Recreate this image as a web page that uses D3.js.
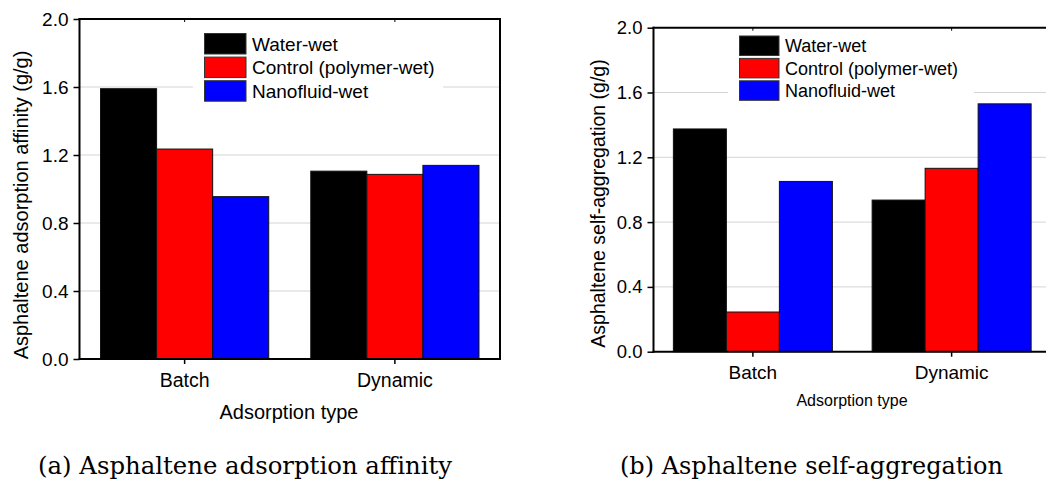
<!DOCTYPE html>
<html>
<head>
<meta charset="utf-8">
<script src="https://cdn.jsdelivr.net/npm/d3@7"></script>
<style>
  html, body { margin: 0; padding: 0; background: #fff; }
  svg { display: block; }
</style>
</head>
<body>
<svg id="chart" width="1046" height="481"></svg>
<script>
// ---------- data ----------
const categories = ["Batch", "Dynamic"];
const seriesNames = ["Water-wet", "Control (polymer-wet)", "Nanofluid-wet"];
const seriesColors = ["#000000", "#ff0000", "#0000ff"];
const yTicks = [0, 0.4, 0.8, 1.2, 1.6, 2.0];

// (a) adsorption affinity
const affinityWater = [1.59, 1.105];
const affinityControl = [1.235, 1.086];
const affinityNano = [0.955, 1.139];

// (b) self-aggregation
const aggregationWater = [1.375, 0.936];
const aggregationControl = [0.245, 1.132];
const aggregationNano = [1.051, 1.530];

const captionA = "(a) Asphaltene adsorption affinity";
const captionB = "(b) Asphaltene self-aggregation";

// ---------- drawing ----------
const svg = d3.select("#chart");
const SANS = "'Liberation Sans', Arial, sans-serif";

function drawPanel(o) {
  const g = svg.append("g");
  const x0 = d3.scaleBand().domain(categories).range([o.left, o.right])
    .paddingInner(0.2).paddingOuter(0.1);
  const x1 = d3.scaleBand().domain(seriesNames).range([0, x0.bandwidth()]);
  const y = d3.scaleLinear().domain([0, 2]).range([o.bottom, o.top]);
  const color = d3.scaleOrdinal().domain(seriesNames).range(seriesColors);

  // gridlines
  g.append("g").selectAll("line").data(yTicks.filter(t => t > 0 && t < 2)).join("line")
    .attr("x1", o.left).attr("x2", o.right)
    .attr("y1", d => y(d)).attr("y2", d => y(d))
    .attr("stroke", "#d4d4d4").attr("stroke-width", 1);

  // bars
  const rows = categories.map((c, i) => ({cat: c, vals: o.series.map((s, j) => ({name: seriesNames[j], v: s[i]}))}));
  g.append("g").selectAll("g").data(rows).join("g")
    .attr("transform", d => `translate(${x0(d.cat)},0)`)
    .selectAll("rect").data(d => d.vals).join("rect")
    .attr("x", d => x1(d.name)).attr("width", x1.bandwidth())
    .attr("y", d => y(d.v)).attr("height", d => y(0) - y(d.v))
    .attr("fill", d => color(d.name))
    .attr("stroke", "#111").attr("stroke-width", 1);

  // legend (white background hides gridline)
  const lg = g.append("g");
  lg.append("rect").attr("x", o.legBgX0).attr("y", o.legTop - 4)
    .attr("width", o.legBgX1 - o.legBgX0).attr("height", o.legStep * 3 + 6).attr("fill", "#fff");
  const li = lg.selectAll("g").data(seriesNames).join("g")
    .attr("transform", (d, i) => `translate(${o.legX},${o.legTop + i * o.legStep})`);
  li.append("rect").attr("width", o.swW).attr("height", o.swH)
    .attr("fill", d => color(d)).attr("stroke", "#333").attr("stroke-width", 1);
  li.append("text").attr("x", o.swW + 6).attr("y", o.swH / 2).attr("dy", "0.36em")
    .attr("font-family", SANS).attr("font-size", o.legFont).attr("fill", "#000").text(d => d);

  // y axis
  const ya = g.append("g").attr("transform", `translate(${o.left},0)`)
    .call(d3.axisLeft(y).tickValues(yTicks).tickFormat(d3.format(".1f")).tickSize(6).tickPadding(5));
  ya.select(".domain").remove();
  ya.selectAll(".tick line").attr("stroke", "#000").attr("stroke-width", 1.5);
  ya.selectAll(".tick text").attr("font-family", SANS).attr("font-size", o.tickFont).attr("fill", "#000");

  // x axis
  const xa = g.append("g").attr("transform", `translate(0,${o.bottom})`)
    .call(d3.axisBottom(x0).tickSize(5).tickPadding(9));
  xa.select(".domain").remove();
  xa.selectAll(".tick line").attr("stroke", "#000").attr("stroke-width", 1.5);
  xa.selectAll(".tick text").attr("font-family", SANS).attr("font-size", o.catFont).attr("fill", "#000");

  // top small ticks
  g.append("g").selectAll("line").data(categories).join("line")
    .attr("x1", d => x0(d) + x0.bandwidth() / 2).attr("x2", d => x0(d) + x0.bandwidth() / 2)
    .attr("y1", o.top).attr("y2", o.top + 3).attr("stroke", "#000").attr("stroke-width", 1);

  // frame
  const fr = g.append("g").attr("stroke", "#000").attr("stroke-width", 2).attr("fill", "none");
  fr.append("line").attr("x1", o.left).attr("x2", o.left).attr("y1", o.top - 1).attr("y2", o.bottom + 1);
  fr.append("line").attr("x1", o.left - 1).attr("x2", o.right + 1).attr("y1", o.bottom).attr("y2", o.bottom);
  fr.append("line").attr("x1", o.left - 1).attr("x2", o.right + 1).attr("y1", o.top).attr("y2", o.top);
  fr.append("line").attr("x1", o.right).attr("x2", o.right).attr("y1", o.top - 1).attr("y2", o.bottom + 1);

  // axis titles
  g.append("text").attr("transform", `translate(${o.yTitleX},${o.yTitleY}) rotate(-90)`)
    .attr("text-anchor", "middle").attr("font-family", SANS).attr("font-size", o.yTitleFont)
    .attr("fill", "#000").text(o.yTitle);
  g.append("text").attr("x", o.xTitleX).attr("y", o.xTitleY)
    .attr("text-anchor", "middle").attr("font-family", SANS).attr("font-size", o.xTitleFont)
    .attr("fill", "#000").text("Adsorption type");

  // caption
  g.append("text").attr("x", o.capX).attr("y", 474)
    .attr("font-family", "'DejaVu Serif', serif").attr("font-size", 23.5)
    .attr("textLength", o.capLen).attr("lengthAdjust", "spacingAndGlyphs")
    .attr("fill", "#000").text(o.caption);
}

drawPanel({
  left: 79.5, right: 500, top: 19, bottom: 359,
  series: [affinityWater, affinityControl, affinityNano],
  legX: 204.5, legTop: 33.5, legStep: 23.6, swW: 41.5, swH: 20.5, legFont: 19,
  legBgX0: 193, legBgX1: 443,
  tickFont: 19, catFont: 19.5,
  yTitle: "Asphaltene adsorption affinity (g/g)", yTitleX: 28, yTitleY: 205, yTitleFont: 20,
  xTitleX: 289, xTitleY: 419, xTitleFont: 20,
  caption: captionA, capX: 38, capLen: 414
});

drawPanel({
  left: 653.5, right: 1051, top: 27.7, bottom: 351.7,
  series: [aggregationWater, aggregationControl, aggregationNano],
  legX: 739.5, legTop: 36, legStep: 22.4, swW: 39.5, swH: 19.5, legFont: 18,
  legBgX0: 728, legBgX1: 974,
  tickFont: 18.5, catFont: 19,
  yTitle: "Asphaltene self-aggregation (g/g)", yTitleX: 605, yTitleY: 203.5, yTitleFont: 19.5,
  xTitleX: 852, xTitleY: 406, xTitleFont: 16,
  caption: captionB, capX: 620, capLen: 383
});
</script>
</body>
</html>
